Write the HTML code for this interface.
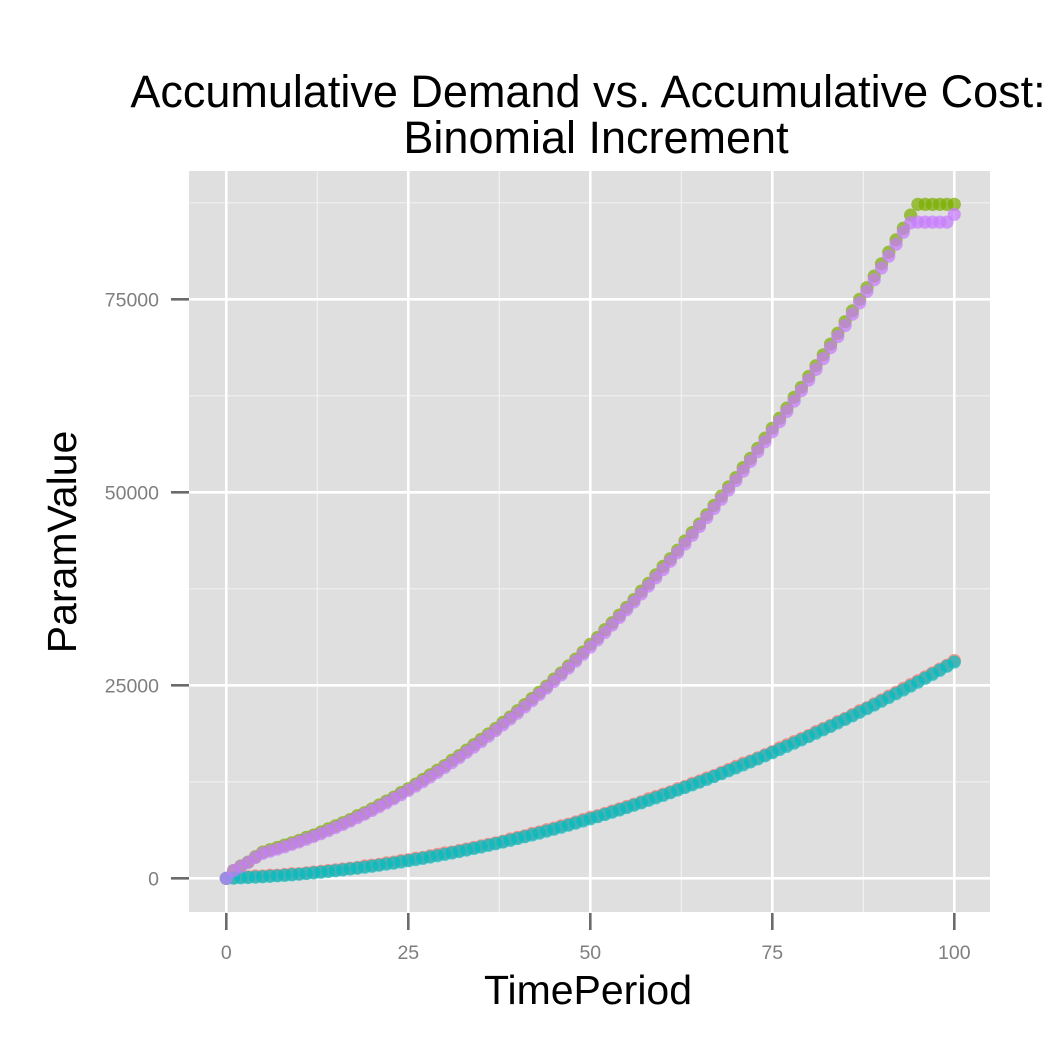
<!DOCTYPE html>
<html><head><meta charset="utf-8"><style>
html,body{margin:0;padding:0;background:#fff;}
svg{display:block;font-family:"Liberation Sans",Arial,sans-serif;}
</style></head><body>
<svg id="chart" width="1050" height="1050" viewBox="0 0 1050 1050">
<text x="588" y="107" text-anchor="middle" font-size="45" fill="#000">Accumulative Demand vs. Accumulative Cost:</text>
<text x="596" y="153" text-anchor="middle" font-size="45" fill="#000">Binomial Increment</text>
<rect x="189" y="171" width="801" height="741" fill="#dfdfdf"/>
<g id="grid"></g>
<g id="axes"></g>
<g id="marks"></g>
<text x="588" y="1004" text-anchor="middle" font-size="41" fill="#000">TimePeriod</text>
<text transform="translate(76,542) rotate(-90)" text-anchor="middle" font-size="41" fill="#000">ParamValue</text>
</svg>
<script>
const xTicks = [0, 25, 50, 75, 100];
const yTicks = [0, 25000, 50000, 75000];
const xMinor = [12.5, 37.5, 62.5, 87.5];
const yMinor = [12500, 37500, 62500, 87500];
const demandGreen = [0,1000,1600,2100,2800,3400,3700,4000,4300,4600,4900,5300,5600,6000,6400,6800,7200,7600,8100,8500,9000,9500,10000,10500,11100,11600,12200,12800,13400,14000,14600,15300,15900,16600,17300,18000,18700,19400,20200,20900,21700,22500,23300,24100,24900,25800,26600,27500,28400,29300,30300,31200,32200,33100,34100,35100,36100,37200,38200,39300,40400,41400,42500,43700,44800,45900,47100,48300,49500,50700,51900,53200,54400,55700,57000,58300,59600,60900,62300,63600,65000,66400,67800,69200,70600,72100,73500,75000,76500,78000,79600,81100,82700,84200,85900,87300,87300,87300,87300,87300,87300];
const demandPurple = [0,1000,1550,2070,2700,3240,3505,3786,4081,4392,4717,5057,5412,5782,6167,6567,6981,7411,7855,8315,8789,9279,9782,10302,10835,11385,11948,12527,13120,13729,14352,14991,15644,16313,16995,17694,18406,19135,19877,20635,21407,22195,22997,23815,24647,25494,26356,27233,28125,29032,29954,30891,31842,32809,33790,34787,35797,36824,37864,38921,39991,41078,42178,43294,44424,45570,46730,47905,49095,50301,51520,52756,54005,55270,56549,57845,59154,60479,61817,63172,64541,65926,67324,68738,70167,71611,73069,74543,76031,77535,79053,80586,82134,83697,84900,85000,85000,85000,85000,85000,86000];
const costRed = [0,100,200,200,300,300,400,400,500,600,600,700,800,900,1000,1100,1200,1300,1400,1600,1700,1800,2000,2100,2300,2400,2600,2700,2900,3100,3300,3400,3600,3800,4000,4200,4400,4600,4800,5100,5300,5500,5800,6000,6300,6500,6800,7000,7300,7600,7900,8100,8400,8700,9000,9300,9600,9900,10300,10600,10900,11200,11600,11900,12300,12600,13000,13300,13700,14100,14500,14900,15200,15600,16000,16400,16900,17300,17700,18100,18500,19000,19400,19800,20300,20700,21200,21700,22100,22600,23100,23600,24100,24600,25100,25600,26100,26600,27100,27600,28200];
const costTeal = [0,31,66,107,152,203,259,320,385,456,532,613,699,790,886,987,1093,1204,1320,1442,1568,1699,1836,1977,2124,2275,2432,2593,2760,2931,3108,3290,3476,3668,3865,4067,4274,4486,4703,4925,5152,5384,5621,5864,6111,6363,6620,6883,7150,7423,7700,7983,8270,8563,8860,9163,9471,9783,10101,10424,10752,11085,11423,11766,12114,12467,12825,13188,13556,13930,14308,14691,15080,15473,15872,16275,16684,17097,17516,17939,18368,18802,19240,19684,20133,20587,21046,21510,21979,22453,22932,23416,23905,24399,24899,25403,25912,26427,26946,27471,28000];

const NS = "http://www.w3.org/2000/svg";
const X0 = 226.3, X1 = 954.3, Y0 = 878.3, Y1 = 299.3;
function sx(v){ return X0 + (X1 - X0) * v / 100; }
function sy(v){ return Y0 + (Y1 - Y0) * v / 75000; }
const grid = document.getElementById('grid');
const axes = document.getElementById('axes');
const marks = document.getElementById('marks');
function mk(tag, attrs, parent){
  const e = document.createElementNS(NS, tag);
  for (const k in attrs) e.setAttribute(k, attrs[k]);
  parent.appendChild(e);
  return e;
}
xMinor.forEach(v => {
  const l = mk('line', {x1:sx(v), x2:sx(v), y1:171, y2:912, stroke:'#f1f1f1', 'stroke-width':1.2}, grid);
  
  
});
yMinor.forEach(v => {
  const l = mk('line', {x1:189, x2:990, y1:sy(v), y2:sy(v), stroke:'#f1f1f1', 'stroke-width':1.2}, grid);
  
  
});
xTicks.forEach(v => {
  const l = mk('line', {x1:sx(v), x2:sx(v), y1:171, y2:912, stroke:'#fff', 'stroke-width':2.6}, grid);
  
  
  const t = mk('line', {x1:sx(v), x2:sx(v), y1:913, y2:930, stroke:'#6b6b6b', 'stroke-width':2.6}, axes);
  
  
  const tx = mk('text', {x:sx(v), y:959, 'text-anchor':'middle', 'font-size':19.5, fill:'#7f7f7f'}, axes);
  tx.textContent = String(v);
  
  
});
yTicks.forEach(v => {
  const l = mk('line', {x1:189, x2:990, y1:sy(v), y2:sy(v), stroke:'#fff', 'stroke-width':2.6}, grid);
  
  
  const t = mk('line', {x1:171, x2:189, y1:sy(v), y2:sy(v), stroke:'#6b6b6b', 'stroke-width':2.6}, axes);
  
  
  const tx = mk('text', {x:159, y:sy(v)+7, 'text-anchor':'end', 'font-size':19.5, fill:'#7f7f7f'}, axes);
  tx.textContent = String(v);
  
  
});
function series(vals, color, name){
  const g = mk('g', {fill:color, 'fill-opacity':0.72}, marks);
  
  
  vals.forEach((v, i) => {
    const c = mk('circle', {cx:sx(i), cy:sy(v), r:6.6}, g);
    
    
  });
}
series(costRed, '#F8766D', 'cost-red');
series(demandGreen, '#7CAE00', 'demand-green');
series(costTeal, '#00BFC4', 'cost-teal');
series(demandPurple, '#C77CFF', 'demand-purple');
</script>
</body></html>
